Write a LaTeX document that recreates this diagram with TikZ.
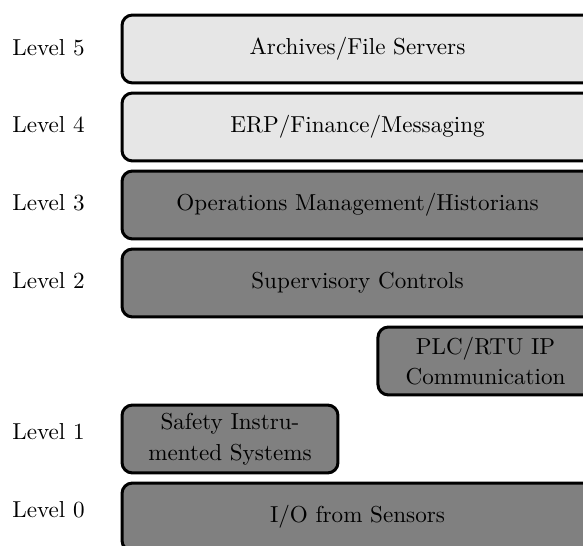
\documentclass[tikz,border=0pt]{standalone}
\usepackage{tikz}

\definecolor{tierlight}{HTML}{E6E6E6}
\definecolor{tierdark}{HTML}{808080}

\tikzset{
  tier/.style={draw=black, line width=1.3pt, rounded corners=4.5pt,
    minimum height=29.4pt, inner sep=0pt, align=center, font=\normalsize},
  upper/.style={tier, fill=tierlight},
  lower/.style={tier, fill=tierdark},
  fullwidth/.style={minimum width=203.9pt},
  levellabel/.style={anchor=base west, inner sep=0pt, font=\normalsize}
}

\begin{document}
\begin{tikzpicture}[x=0.4329pt, y=-0.4329pt]
  % page frame: the wide tiers run past the right and bottom edges
  \clip (0,0) rectangle (583,546);

  % level labels
  \node[levellabel] (lab5) at (12,55.5) {Level 5};
  \node[levellabel] (lab4) at (12,133)  {Level 4};
  \node[levellabel] (lab3) at (12,211)  {Level 3};
  \node[levellabel] (lab2) at (12,288.5){Level 2};
  \node[levellabel] (lab1) at (12,440)  {Level 1};
  \node[levellabel] (lab0) at (12,517)  {Level 0};

  % tiers
  \node[upper, fullwidth] (arch) at (357.5,49)  {Archives/File Servers};
  \node[upper, fullwidth] (erp)  at (357.5,127) {ERP/Finance/Messaging};
  \node[lower, fullwidth] (ops)  at (357.5,205) {Operations Management/Historians};
  \node[lower, fullwidth] (sup)  at (357.5,283) {Supervisory Controls};
  \node[lower, minimum width=93.1pt] (plc) at (485.5,361) {PLC/RTU IP\\[1.2pt]Communication};
  \node[lower, minimum width=93.5pt] (sis) at (230,439) {Safety Instru-\\[1.2pt]mented Systems};
  \node[lower, fullwidth] (io)   at (357.5,517) {I/O from Sensors};
\end{tikzpicture}
\end{document}
